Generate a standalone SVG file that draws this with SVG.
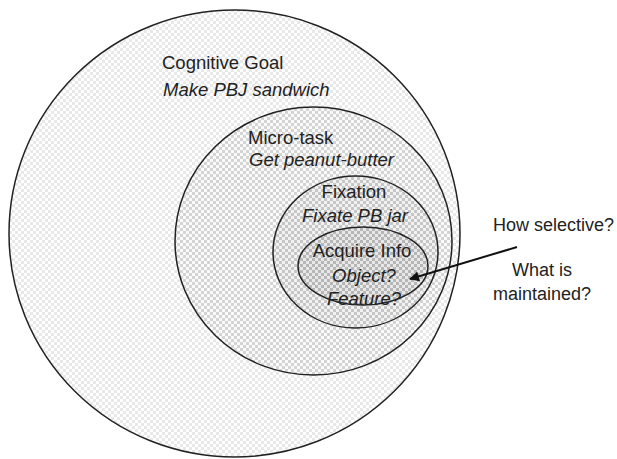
<svg xmlns="http://www.w3.org/2000/svg" width="617" height="459" viewBox="0 0 617 459">
<defs>
<pattern id="p1" patternUnits="userSpaceOnUse" width="6" height="6"><rect width="6" height="6" fill="#ffffff"/><rect width="3" height="3" fill="#e8e8e8"/><rect x="3" y="3" width="3" height="3" fill="#e8e8e8"/></pattern>
<pattern id="p2" patternUnits="userSpaceOnUse" width="6" height="6"><rect width="6" height="6" fill="#fafafa"/><rect width="3" height="3" fill="#d4d4d4"/><rect x="3" y="3" width="3" height="3" fill="#d4d4d4"/></pattern>
<pattern id="p3" patternUnits="userSpaceOnUse" width="6" height="6"><rect width="6" height="6" fill="#f2f2f2"/><rect width="3" height="3" fill="#c6c6c6"/><rect x="3" y="3" width="3" height="3" fill="#c6c6c6"/></pattern>
<pattern id="p4" patternUnits="userSpaceOnUse" width="6" height="6"><rect width="6" height="6" fill="#e8e8e8"/><rect width="3" height="3" fill="#b6b6b6"/><rect x="3" y="3" width="3" height="3" fill="#b6b6b6"/></pattern>
<marker id="ah" viewBox="0 0 10 10" refX="9" refY="5" markerWidth="12" markerHeight="10" markerUnits="userSpaceOnUse" orient="auto"><path d="M0,0 L10,5 L0,10 z" fill="#111"/></marker>
</defs>
<style>
.ring{stroke:#222;stroke-width:1.5}
.t{font-family:"Liberation Sans",Arial,sans-serif;font-size:18.5px;fill:#222}
.q{font-size:18px}
.i{font-style:italic}
.m{text-anchor:middle}
</style>
<rect width="617" height="459" fill="#ffffff"/>
<g id="cognitive-goal">
<ellipse class="ring" cx="234.5" cy="233.5" rx="225.5" ry="223.5" fill="url(#p1)"/>
<text class="t" x="162" y="69">Cognitive Goal</text>
<text class="t i" x="163" y="96">Make PBJ sandwich</text>
</g>
<g id="micro-task">
<ellipse class="ring" cx="313.5" cy="241" rx="138.5" ry="134" fill="url(#p2)"/>
<text class="t" x="248" y="144">Micro-task</text>
<text class="t i" x="249" y="166">Get peanut-butter</text>
</g>
<g id="fixation">
<ellipse class="ring" cx="355.5" cy="252" rx="82.5" ry="76" fill="url(#p3)"/>
<text class="t m" x="354" y="198">Fixation</text>
<text class="t i m" x="355" y="222">Fixate PB jar</text>
</g>
<g id="acquire-info">
<ellipse class="ring" cx="363" cy="266" rx="65" ry="39" fill="url(#p4)"/>
<text class="t m" x="362" y="257">Acquire Info</text>
<text class="t i m" x="364" y="282">Object?</text>
<text class="t i m" x="364" y="305">Feature?</text>
</g>
<g id="questions">
<text class="t q" x="493" y="231">How selective?</text>
<text class="t q" x="512" y="276">What is</text>
<text class="t q" x="493" y="300">maintained?</text>
</g>
<g id="connectors">
<line x1="517" y1="247" x2="410" y2="279" stroke="#111" stroke-width="2" marker-end="url(#ah)"/>
</g>
</svg>
